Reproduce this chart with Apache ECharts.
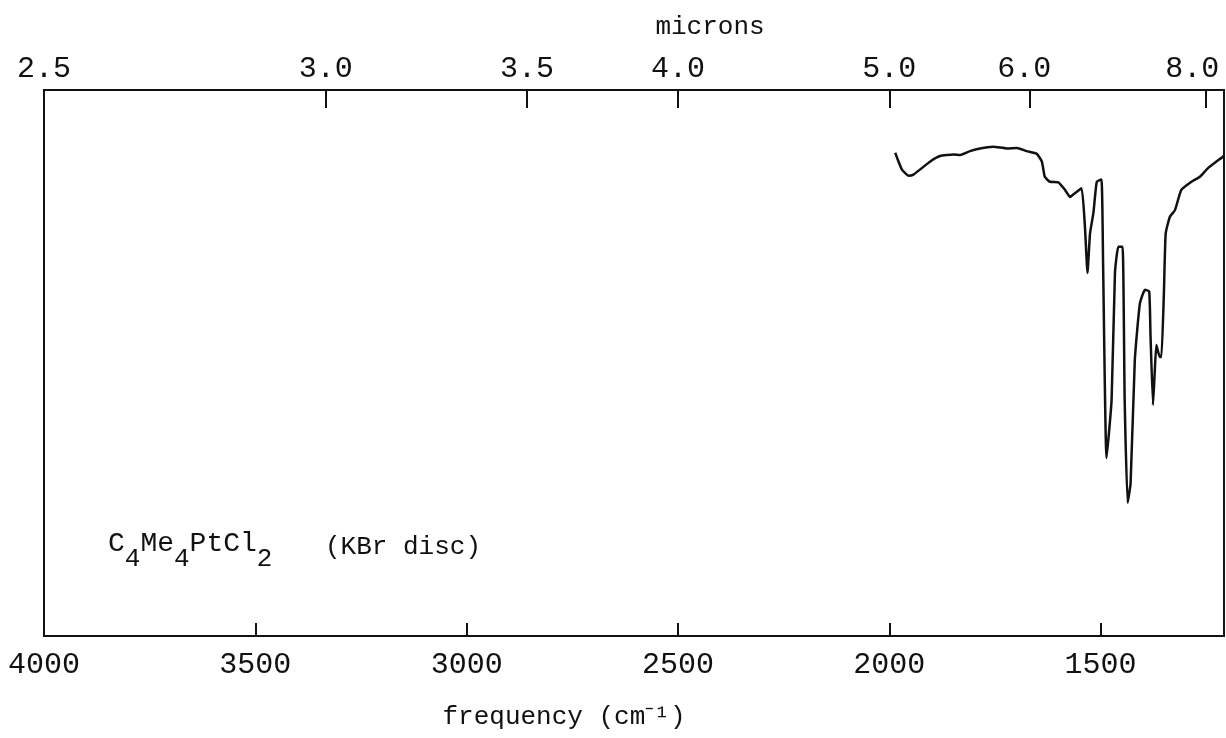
<!DOCTYPE html>
<html>
<head>
<meta charset="utf-8">
<script src="https://cdn.jsdelivr.net/npm/echarts@6/dist/echarts.min.js"></script>
<style>
  html, body { margin: 0; padding: 0; background: #fff; }
  #chart { width: 1226px; height: 738px; }
</style>
</head>
<body>
<div id="chart"></div>
<script>
// IR spectrum of C4Me4PtCl2 (KBr disc): frequency in cm^-1, transmittance in % of full scale
const freq = [1986,1970,1954,1943,1903,1880,1848,1832,1809,1785,1754,1722,1698,1675,1651,
  1639,1632,1620,1600,1584,1572,1561,1545,1537,1531,1525,1517,1509,1498,1494,
  1486,1474,1466,1458,1448,1443,1436,1429,1419,1407,1395,1385,1382,1376,1372,
  1368,1360,1356,1350,1346,1336,1324,1309,1285,1265,1246,1226,1212,1208];
const trans = [88.5,85.4,84.3,84.5,86.9,87.9,88.2,88.1,88.8,89.3,89.6,89.3,89.4,88.8,88.3,
  86.9,84.1,83.2,83.1,81.7,80.4,81.1,82.0,74.9,66.5,73.7,77.5,83.2,83.6,67.7,
  32.6,43.2,66.5,71.3,71.3,43.2,24.4,28.0,50.6,60.9,63.4,63.1,55.4,42.3,48.2,
  53.3,51.1,51.1,63.4,73.7,76.8,78.0,81.7,83.2,84.1,85.7,86.9,87.7,88.0];

// bottom scale (cm^-1) and top scale (microns)
const freqLabels = [4000, 3500, 3000, 2500, 2000, 1500];
const freqTicks = [3500, 3000, 2500, 2000, 1500];
const micronLabels = [2.5, 3.0, 3.5, 4.0, 5.0, 6.0, 8.0];
const micronTicks = [3.0, 3.5, 4.0, 5.0, 6.0, 8.0];

const FREQ_MIN = 1208, FREQ_MAX = 4000;
const mono = 'Liberation Mono';
const toFreq = m => 10000 / m;

// micron labels near the right edge sit a little left of their ticks
function micronLabel(v) {
  const m = 10000 / v;
  const txt = m.toFixed(1);
  if (m >= 7.5) return '{far|' + txt + '}';
  if (m >= 5.5) return '{near|' + txt + '}';
  return txt;
}

const chart = echarts.init(document.getElementById('chart'), null,
  { renderer: 'canvas', width: 1226, height: 738 });

chart.setOption({
  animation: false,
  backgroundColor: '#fff',
  grid: {
    left: 44, right: 2, top: 90, bottom: 102,
    outerBoundsMode: 'none', containLabel: false,
    show: true, borderColor: '#111', borderWidth: 2, backgroundColor: 'transparent'
  },
  xAxis: [
    {
      type: 'value', position: 'bottom', inverse: true,
      min: FREQ_MIN, max: FREQ_MAX,
      name: 'frequency (cm⁻¹)', nameLocation: 'middle', nameGap: 68,
      nameTextStyle: { fontFamily: mono, fontSize: 26, color: '#111', padding: [0, 140, 0, 0] },
      axisLine: { show: false },
      splitLine: { show: false },
      axisTick: { show: true, inside: true, length: 13, customValues: freqTicks,
        lineStyle: { color: '#111', width: 2 } },
      axisLabel: { customValues: freqLabels, fontFamily: mono, fontSize: 30, color: '#111',
        margin: 14, hideOverlap: false, formatter: v => String(v) }
    },
    {
      type: 'value', position: 'top', inverse: true,
      min: FREQ_MIN, max: FREQ_MAX,
      name: 'microns', nameLocation: 'middle', nameGap: 50,
      nameTextStyle: { fontFamily: mono, fontSize: 26, color: '#111', padding: [0, 0, 0, 152] },
      axisLine: { show: false },
      splitLine: { show: false },
      axisTick: { show: true, inside: true, length: 18, customValues: micronTicks.map(toFreq),
        lineStyle: { color: '#111', width: 2 } },
      axisLabel: { customValues: micronLabels.map(toFreq), fontFamily: mono, fontSize: 30,
        color: '#111', margin: 6, hideOverlap: false,
        formatter: micronLabel,
        rich: {
          near: { fontFamily: mono, fontSize: 30, color: '#111', padding: [0, 12, 0, 0] },
          far: { fontFamily: mono, fontSize: 30, color: '#111', padding: [0, 28, 0, 0] }
        } }
    }
  ],
  yAxis: {
    type: 'value', min: 0, max: 100, show: false
  },
  series: [{
    type: 'line',
    xAxisIndex: 0,
    data: freq.map((f, i) => [f, trans[i]]),
    showSymbol: false,
    smooth: 0.15,
    lineStyle: { color: '#111', width: 2.5 },
    clip: true
  }],
  graphic: [
    {
      type: 'text', left: 108, top: 530,
      style: {
        text: 'C{s|4}Me{s|4}PtCl{s|2}',
        fontFamily: mono, fontSize: 28, fill: '#111',
        rich: {
          s: { fontFamily: mono, fontSize: 26, fill: '#111', padding: [30, 0, 0, 0] }
        }
      }
    },
    {
      type: 'text', left: 325, top: 534,
      style: { text: '(KBr disc)', fontFamily: mono, fontSize: 26, fill: '#111' }
    }
  ]
});
</script>
</body>
</html>
